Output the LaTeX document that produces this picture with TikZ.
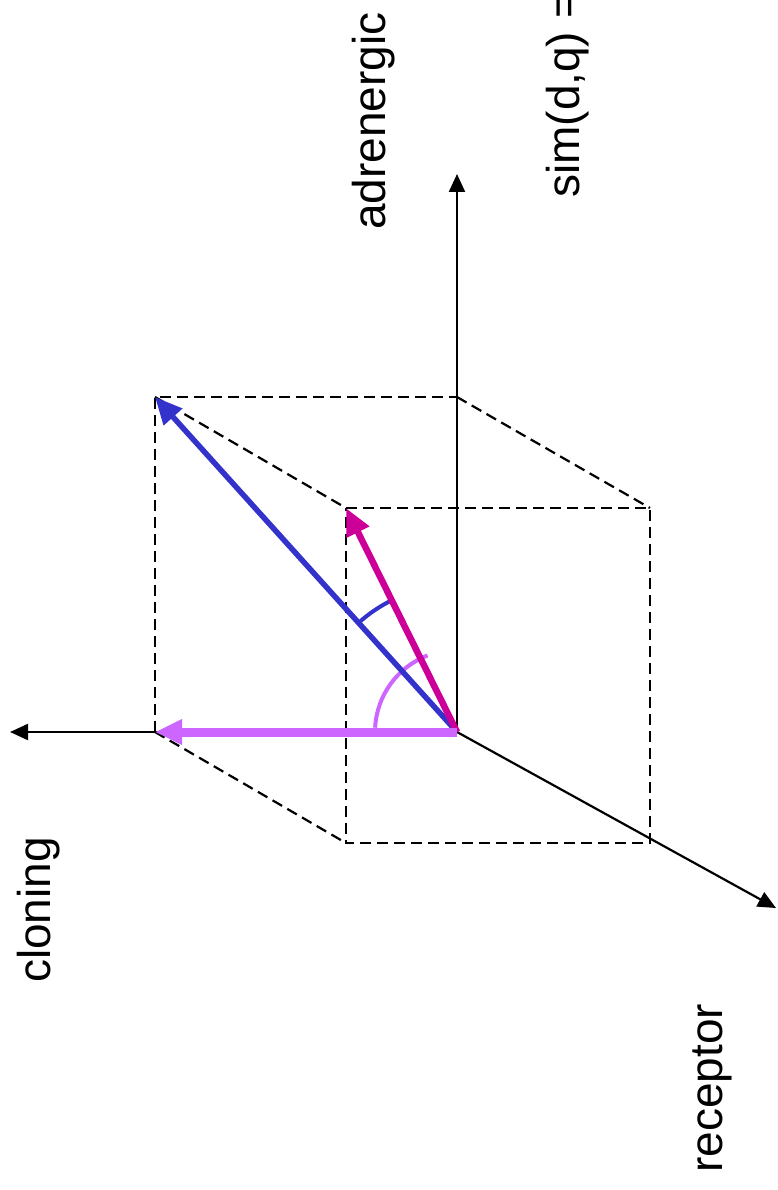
\documentclass[tikz,border=0pt]{standalone}
\usepackage{fontspec}
\setmainfont{Liberation Sans}
\usetikzlibrary{arrows.meta}
\definecolor{vecblue}   {RGB}{51, 51, 204}
\definecolor{vecmagenta}{RGB}{204, 0, 153}
\definecolor{vecviolet} {RGB}{204, 102, 255}
\tikzset{
  % Coordinate axis
  axis/.style={-{Triangle[length=18pt, width=16pt]}, line width=2.2pt},
  % Projection lines of the box
  boxedge/.style={line width=2.2pt, dash pattern=on 11pt off 6pt},
  % Document / query vector
  vec/.style={-{Triangle[length=27pt, width=24pt]}},
  % Angle mark
  anglearc/.style={line width=4pt},
  % Rotated axis label
  axlabel/.style={
    rotate=90, anchor=base west, inner sep=0pt,
    font=\fontsize{46pt}{55pt}\selectfont
  },
}

\begin{document}
\begin{tikzpicture}[x=1pt, y=1pt]
  \useasboundingbox (0,0) rectangle (777,-1190);
  % axes
  \coordinate (O)   at (457,-732);
  \coordinate (adr) at (457,-174);
  \coordinate (clo) at (10,-732);
  \coordinate (rec) at (776,-908);
  % back face
  \coordinate (b1) at (155,-397);
  \coordinate (b2) at (457,-397);
  \coordinate (b3) at (155,-732);
  % front face
  \coordinate (f1) at (346,-508);
  \coordinate (f2) at (650,-508);
  \coordinate (f3) at (650,-843);
  \coordinate (f4) at (346,-843);

  \draw[axis] (O) -- (adr);
  \draw[axis] (O) -- (clo);
  \draw[axis] (O) -- (rec);

  \draw[boxedge] (b3) -- (b1) -- (b2);
  \draw[boxedge] (f1) -- (f2) -- (f3) -- (f4) -- cycle;
  \draw[boxedge] (b1) -- (f1);
  \draw[boxedge] (b2) -- (f2);
  \draw[boxedge] (b3) -- (f4);

  \draw[anglearc, vecviolet] ([shift={(177:82)}]O) arc[start angle=177, end angle=111, radius=82];
  \draw[vec, vecblue, line width=5.5pt] (O) -- (b1);
  \draw[anglearc, vecblue] ([shift={(131:147)}]O) arc[start angle=131, end angle=116, radius=147];
  \draw[vec, vecmagenta, line width=6.5pt] (O) -- (f1);
  \draw[vec, vecviolet, line width=9pt] (O) -- (b3);

  \node[axlabel] (adrlabel) at (385,-230)  {adrenergic};
  \node[axlabel] (simlabel) at (579,-198)  {sim(d,q) =};
  \node[axlabel] (clolabel) at (50,-983)   {cloning};
  \node[axlabel] (reclabel) at (722,-1173) {receptor};
\end{tikzpicture}
\end{document}
